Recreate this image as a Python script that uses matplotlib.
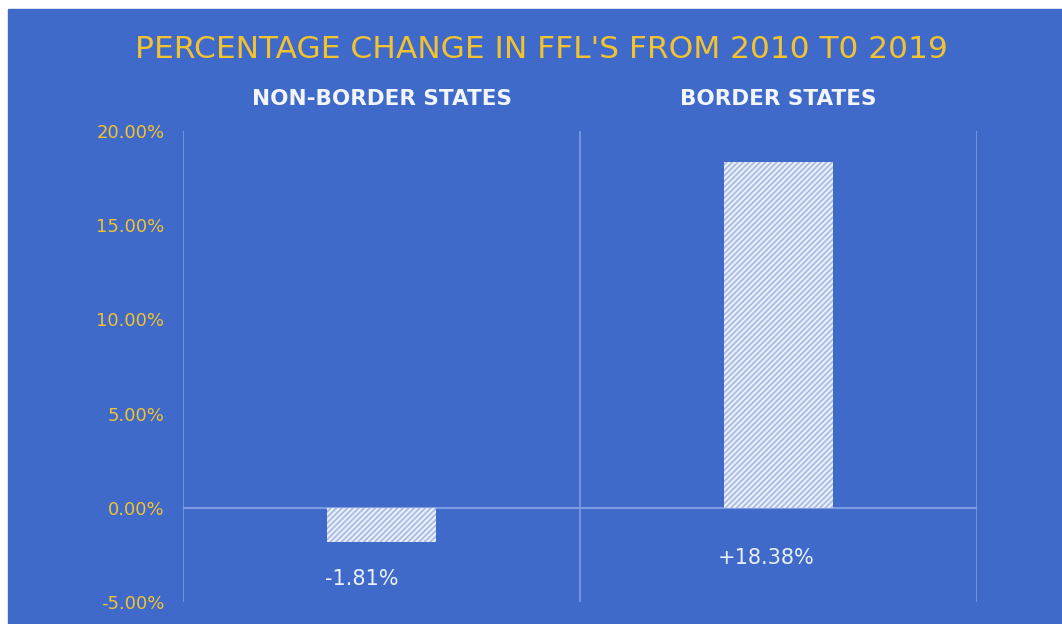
import numpy as np
import matplotlib
matplotlib.use("Agg")
import matplotlib.pyplot as plt

categories = ["NON-BORDER STATES", "BORDER STATES"]
changes = [-1.81, 18.38]
value_labels = ["-1.81%", "+18.38%"]
yticks = [-5, 0, 5, 10, 15, 20]

bg = "#3F6AC9"
gold = "#F2C231"
grid_c = "#7C9BE2"

plt.rcParams["font.family"] = ["DejaVu Sans"]
plt.rcParams["hatch.color"] = "#A9BBE4"
plt.rcParams["hatch.linewidth"] = 1.3

fig = plt.figure(figsize=(10.62, 6.24), dpi=100, facecolor="white")
# blue panel (white strip on top and left like the screenshot)
fig.patches.append(plt.Rectangle((8 / 1062, 0), 1, (624 - 9) / 624,
                                 transform=fig.transFigure, color=bg, zorder=-5))

ax = fig.add_axes([183 / 1062, 22 / 624, (977 - 183) / 1062, (602 - 131) / 624])
ax.set_facecolor(bg)
ax.patch.set_alpha(0)

x = np.arange(len(categories))
ax.bar(x, changes, width=0.275, color="#EAF0FA", hatch="//////",
       edgecolor="#A9BBE4", linewidth=0, zorder=3)

ax.set_xlim(-0.5, len(categories) - 0.5)
ax.set_ylim(-5, 20)

# separators between categories + zero line
for xv in np.arange(len(categories) + 1) - 0.5:
    ax.axvline(xv, color=grid_c, lw=1.2, zorder=1)
ax.axhline(0, color=grid_c, lw=1.5, zorder=2)

for s in ax.spines.values():
    s.set_visible(False)

ax.set_yticks(yticks)
ax.set_yticklabels([f"{v:.2f}%" for v in yticks], color=gold, fontsize=13)
ax.tick_params(axis="y", length=0, pad=13.5)
ax.set_xticks([])

# value labels under the bars
offsets = [(-14, -27), (-9, -36)]
for i, (v, lab) in enumerate(zip(changes, value_labels)):
    ax.annotate(lab, (x[i], min(v, 0)), xytext=offsets[i], textcoords="offset points",
                ha="center", va="center", color="#EAF0FB", fontsize=15)

# category headers above the plot
for i, cat in enumerate(categories):
    ax.annotate(cat, (x[i], 1), xycoords=("data", "axes fraction"),
                xytext=(0, 23), textcoords="offset points", ha="center", va="center",
                color="#F2F5FC", fontsize=15.5, fontweight="bold")

fig.text(541 / 1062, 1 - 49 / 624, "PERCENTAGE CHANGE IN FFL'S FROM 2010 T0 2019",
         ha="center", va="center", color=gold, fontsize=22.5)

fig.savefig("out.png", dpi=100, facecolor="white")
